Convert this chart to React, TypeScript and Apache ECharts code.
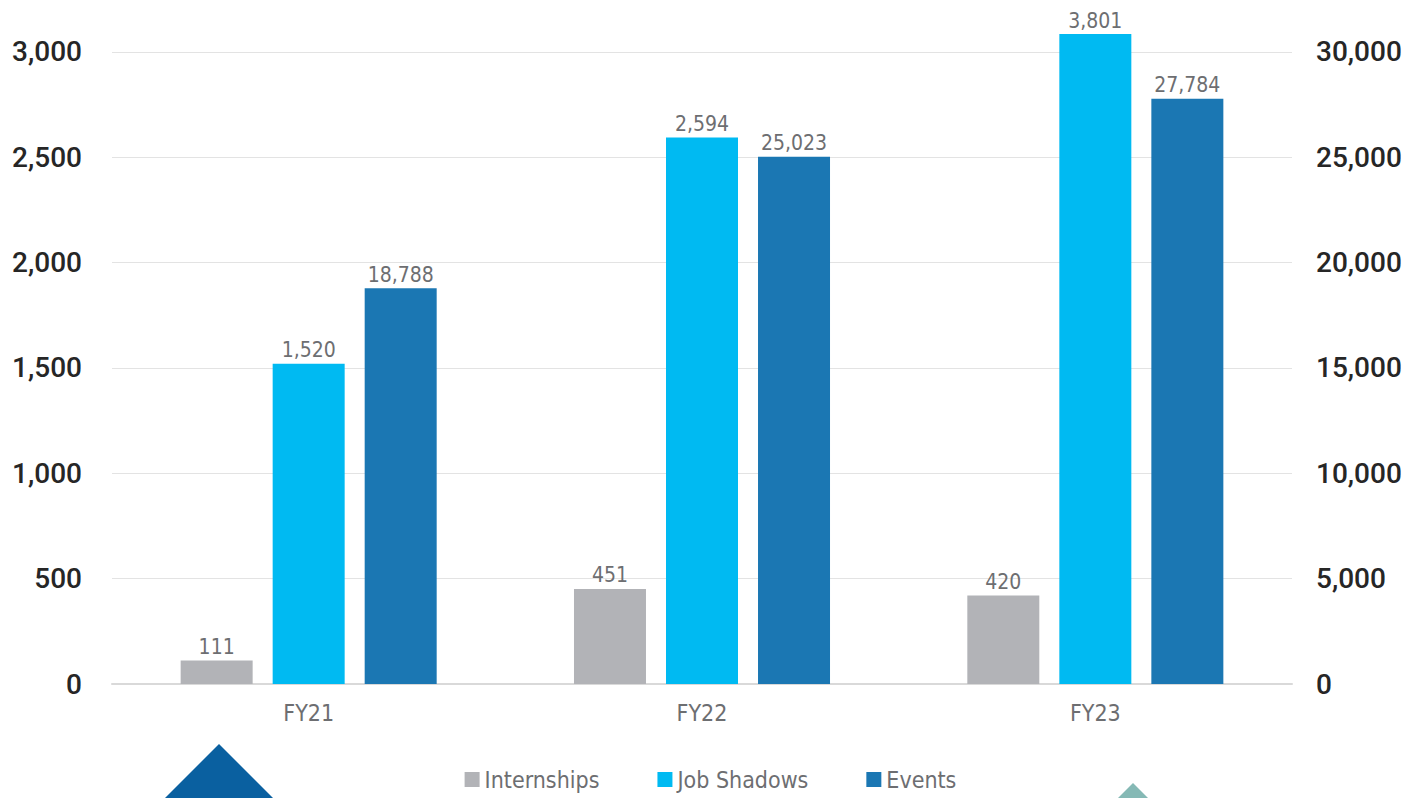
import React, { useEffect, useRef } from "react";
import * as echarts from "echarts";

const categories = ["FY21", "FY22", "FY23"];
const internships = [111, 451, 420];
const jobShadows = [1520, 2594, 3801];
const events = [18788, 25023, 27784];
const leftTicks = [0, 500, 1000, 1500, 2000, 2500, 3000];
const rightTicks = [0, 5000, 10000, 15000, 20000, 25000, 30000];

const COND = '"Liberation Sans Narrow", "DejaVu Sans Condensed", "Arial Narrow", sans-serif';
const AXIS_FONT = 'Roboto, "Liberation Sans", Arial, sans-serif';

const fmt = (v: number) => v.toLocaleString("en-US");

export default function App() {
  const ref = useRef<HTMLDivElement>(null);
  useEffect(() => {
    if (!ref.current) return;
    const chart = echarts.init(ref.current, null, { renderer: "svg" });
    const leftMax = 3085.4;
    const rightMax = 30854;
    const labelStyle = {
      show: true,
      position: "top" as const,
      distance: 3,
      color: "#6d6e71",
      fontSize: 21,
      fontFamily: COND,
      formatter: (p: any) => fmt(p.value),
    };
    chart.setOption({
      animation: false,
      backgroundColor: "#ffffff",
      grid: { left: 112, right: 129, top: 34, bottom: 114 },
      legend: {
        data: ["Internships", "Job Shadows", "Events"],
        top: 768,
        left: "center",
        icon: "rect",
        itemWidth: 15,
        itemHeight: 15,
        itemGap: 58,
        padding: 0,
        textStyle: { color: "#6d6e71", fontSize: 23, fontFamily: COND },
      },
      xAxis: {
        type: "category",
        data: categories,
        axisLine: { show: true, lineStyle: { color: "#d9d9d9", width: 2 } },
        axisTick: { show: false },
        axisLabel: { color: "#6d6e71", fontSize: 23, fontFamily: COND, margin: 17 },
      },
      yAxis: [
        {
          type: "value",
          min: leftTicks[0],
          max: leftMax,
          interval: leftTicks[1] - leftTicks[0],
          axisLine: { show: false },
          axisTick: { show: false },
          splitLine: { show: true, showMaxLine: false, lineStyle: { color: "#e3e3e3", width: 1 } },
          axisLabel: {
            showMaxLabel: false,
            color: "#262626",
            fontSize: 28,
            fontWeight: 500,
            fontFamily: AXIS_FONT,
            margin: 30,
            formatter: (v: number) => (leftTicks.includes(v) ? fmt(v) : ""),
          },
        },
        {
          type: "value",
          min: rightTicks[0],
          max: rightMax,
          interval: rightTicks[1] - rightTicks[0],
          axisLine: { show: false },
          axisTick: { show: false },
          splitLine: { show: false },
          axisLabel: {
            showMaxLabel: false,
            color: "#262626",
            fontSize: 28,
            fontWeight: 500,
            fontFamily: AXIS_FONT,
            margin: 24,
            formatter: (v: number) => (rightTicks.includes(v) ? fmt(v) : ""),
          },
        },
      ],
      series: [
        {
          name: "Internships",
          type: "bar",
          yAxisIndex: 0,
          data: internships,
          barWidth: 72,
          barGap: "27.8%",
          itemStyle: { color: "#b2b3b7" },
          label: labelStyle,
        },
        {
          name: "Job Shadows",
          type: "bar",
          yAxisIndex: 0,
          data: jobShadows,
          barWidth: 72,
          barGap: "27.8%",
          itemStyle: { color: "#00baf2" },
          label: labelStyle,
        },
        {
          name: "Events",
          type: "bar",
          yAxisIndex: 1,
          data: events,
          barWidth: 72,
          barGap: "27.8%",
          itemStyle: { color: "#1b77b3" },
          label: labelStyle,
        },
      ],
      graphic: [
        {
          type: "polygon",
          silent: true,
          shape: { points: [[219, 744], [274, 799], [164, 799]] },
          style: { fill: "#0a60a0" },
        },
        {
          type: "polygon",
          silent: true,
          shape: { points: [[1133, 783], [1149, 799], [1117, 799]] },
          style: { fill: "#85b9b5" },
        },
      ],
    });
    return () => chart.dispose();
  }, []);
  return (
    <div
      ref={ref}
      style={{ position: "fixed", left: 0, top: 0, width: 1421, height: 798, background: "#fff" }}
    />
  );
}
